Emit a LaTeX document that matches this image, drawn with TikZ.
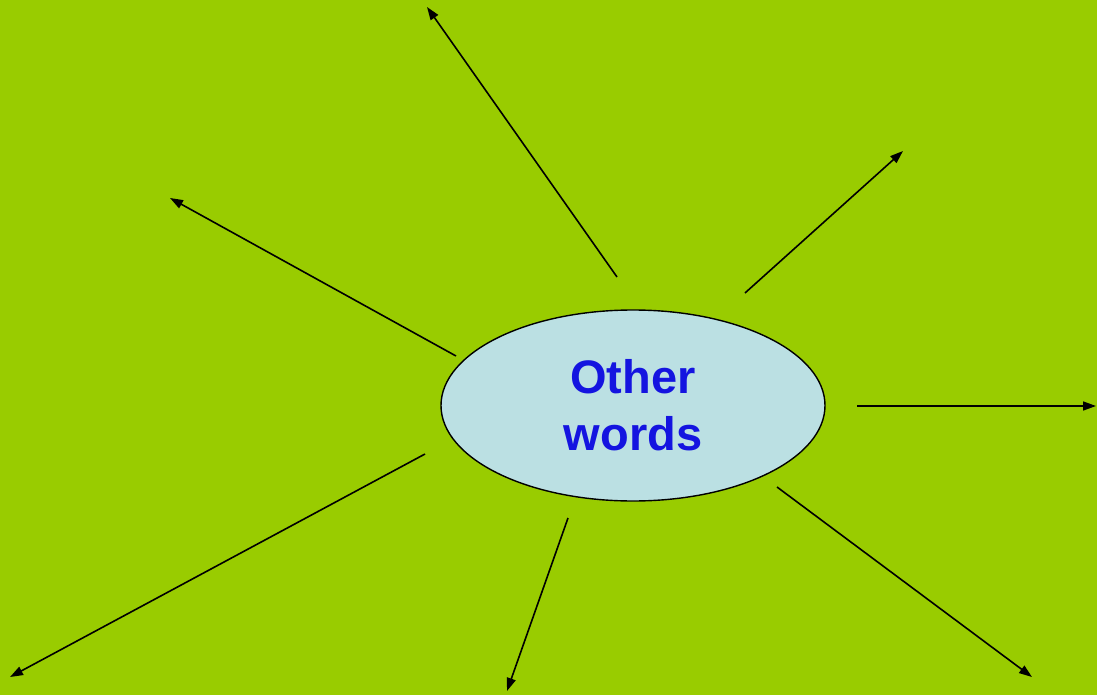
\documentclass[tikz,border=0pt]{standalone}
\usepackage{fontspec}
\setmainfont{Liberation Sans}
\usepackage{xcolor}
\usetikzlibrary{arrows.meta,shapes.geometric}
\definecolor{bggreen}{HTML}{99CC00}
\definecolor{bubblefill}{HTML}{BBE0E3}
\definecolor{wordblue}{HTML}{1414E0}
\tikzset{
  mm bubble/.style={
    ellipse,
    draw=black,
    line width=1.4pt,
    fill=bubblefill,
    minimum width=384pt,
    minimum height=191pt,
    inner sep=0pt,
    align=center,
    text=wordblue,
    font=\fontsize{47}{57}\selectfont\bfseries,
  },
  mm arrow/.style={-{Triangle[length=13pt,width=9pt]}, line width=1.6pt},
}
\begin{document}
\begin{tikzpicture}[x=1pt,y=-1pt]
  \fill[bggreen] (0,0) rectangle (1097,695);
  \useasboundingbox (0,0) rectangle (1097,695);

  \node[mm bubble] (hub) at (633,405.5) {Other\\words};

  % spoke ends
  \coordinate (n-s) at (617,277);   \coordinate (n-e) at (427,7);
  \coordinate (ne-s) at (745,293);  \coordinate (ne-e) at (903,151);
  \coordinate (nw-s) at (456,356);  \coordinate (nw-e) at (170,198);
  \coordinate (e-s) at (857,406);   \coordinate (e-e) at (1096,406);
  \coordinate (sw-s) at (425,454);  \coordinate (sw-e) at (10,677);
  \coordinate (s-s) at (568,518);   \coordinate (s-e) at (507,691);
  \coordinate (se-s) at (777,487);  \coordinate (se-e) at (1032,677);

  \foreach \d in {n,ne,nw,e,sw,s,se}
    \draw[mm arrow] (\d-s) -- (\d-e);
\end{tikzpicture}
\end{document}
